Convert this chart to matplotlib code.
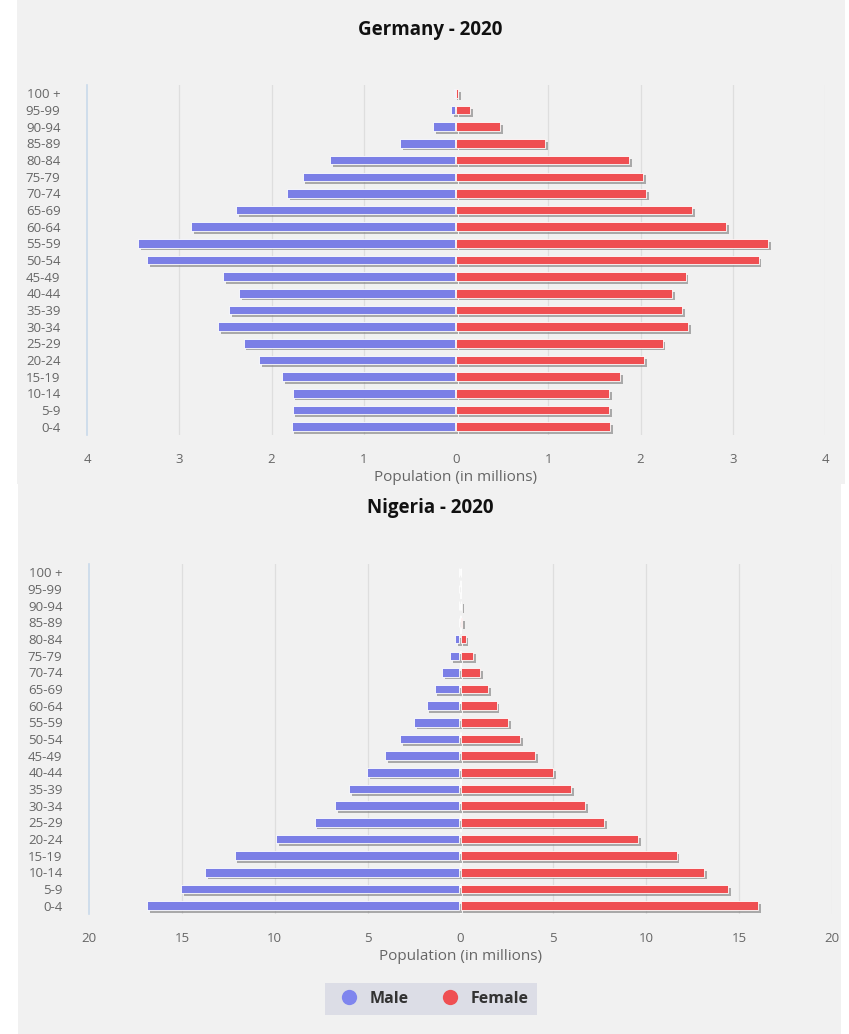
import numpy as np
import matplotlib.pyplot as plt
import matplotlib.patheffects as pe
from matplotlib.patches import Rectangle
from matplotlib.lines import Line2D

plt.rcParams['font.family'] = ['Open Sans', 'DejaVu Sans']

# grupy wiekowe (od najmłodszych)
ages = ["0-4", "5-9", "10-14", "15-19", "20-24", "25-29", "30-34", "35-39",
        "40-44", "45-49", "50-54", "55-59", "60-64", "65-69", "70-74",
        "75-79", "80-84", "85-89", "90-94", "95-99", "100 +"]

# Niemcy 2020, mln
de_male = [1.77, 1.76, 1.76, 1.87, 2.12, 2.29, 2.57, 2.45, 2.34, 2.51, 3.34,
           3.43, 2.86, 2.37, 1.82, 1.65, 1.35, 0.59, 0.24, 0.04, 0.005]
de_female = [1.67, 1.66, 1.66, 1.78, 2.04, 2.24, 2.52, 2.45, 2.34, 2.49, 3.28,
             3.38, 2.93, 2.56, 2.06, 2.03, 1.88, 0.97, 0.48, 0.15, 0.02]

# Nigeria 2020, mln
ng_male = [16.8, 15.0, 13.67, 12.1, 9.87, 7.79, 6.69, 5.94, 4.98, 3.99, 3.18,
           2.43, 1.76, 1.33, 0.94, 0.5, 0.22, 0.03, 0.01, 0.002, 0.0]
ng_female = [16.03, 14.41, 13.12, 11.64, 9.58, 7.73, 6.70, 5.97, 4.98, 4.03, 3.23,
             2.55, 1.94, 1.47, 1.04, 0.68, 0.27, 0.1, 0.03, 0.005, 0.0]

male_col = "#7b7fe6"
female_col = "#ef4f52"
txt_col = "#666666"

fig = plt.figure(figsize=(8.49, 10.34), dpi=100, facecolor="white")
# tło (dwa zrzuty ekranu)
fig.patches.append(Rectangle((17 / 849, 1 - 484 / 1034), 828 / 849, 484 / 1034,
                             transform=fig.transFigure, facecolor="#f1f1f1",
                             edgecolor="none", zorder=-10))
fig.patches.append(Rectangle((18 / 849, 0), 823 / 849, 550 / 1034,
                             transform=fig.transFigure, facecolor="#f1f1f1",
                             edgecolor="none", zorder=-10))

shadow = [pe.SimplePatchShadow(offset=(2, -2), shadow_rgbFace="#7a7a7a", alpha=0.6),
          pe.Normal()]


def pyramid(rect, male, female, lim, step, title, title_y, zero_dash=False):
    ax = fig.add_axes(rect)
    ax.set_facecolor("none")
    y = np.arange(len(ages))
    gap = lim * 0.003
    bm = ax.barh(y, -np.array(male), left=-gap, height=0.5, color=male_col,
                 edgecolor="white", linewidth=0.6)
    bf = ax.barh(y, female, height=0.5, color=female_col,
                 edgecolor="white", linewidth=0.6)
    for b in list(bm) + list(bf):
        b.set_path_effects(shadow)
    ax.set_xlim(-lim, lim)
    ax.set_ylim(-0.5, len(ages) - 0.5)
    ticks = np.arange(-lim, lim + step, step)
    ax.set_xticks(ticks)
    ax.set_xticklabels([f"{abs(t):g}" for t in ticks])
    ax.set_yticks(y)
    ax.set_yticklabels(ages)
    ax.tick_params(length=0, colors=txt_col, labelsize=9.5)
    ax.tick_params(axis="x", pad=13)
    ax.tick_params(axis="y", pad=19)
    for t in ticks:
        if t != 0 and abs(t) != lim:
            ax.axvline(t, color="#dedede", linewidth=0.9, zorder=0)
    ax.axvline(lim, color="#e4e4e4", linewidth=0.9, zorder=0)
    if zero_dash:
        ax.axvline(0, color="white", linewidth=1.2, linestyle=(0, (4, 3)), zorder=0)
    for s in ["top", "right", "bottom"]:
        ax.spines[s].set_visible(False)
    ax.spines["left"].set_color("#c9d9ea")
    ax.spines["left"].set_linewidth(1.2)
    ax.set_xlabel("Population (in millions)", color=txt_col, fontsize=11, labelpad=3)
    fig.text(0.5065, title_y, title, ha="center", va="center",
             fontsize=13.5, fontweight="bold", color="#111111")
    return ax


pyramid([87 / 849, 1 - 435 / 1034, 738 / 849, 350 / 1034],
        de_male, de_female, 4, 1, "Germany - 2020", 1 - 30 / 1034)
pyramid([89 / 849, 1 - 914 / 1034, 743 / 849, 350 / 1034],
        ng_male, ng_female, 20, 5, "Nigeria - 2020", 1 - 508 / 1034, zero_dash=True)

# legenda
handles = [Line2D([], [], marker="o", linestyle="none", markersize=11,
                  markerfacecolor=c, markeredgecolor="none") for c in ["#7f85ee", female_col]]
leg = fig.legend(handles, ["Male", "Female"], loc="center",
                 bbox_to_anchor=(431 / 849, 1 - 999 / 1034), ncol=2,
                 frameon=True, fancybox=False, handletextpad=0.3, columnspacing=1.6,
                 borderpad=0.5, prop={"weight": "bold", "size": 11.5})
leg.get_frame().set_facecolor("#dcdde6")
leg.get_frame().set_edgecolor("none")
leg.get_frame().set_alpha(1)
for t in leg.get_texts():
    t.set_color("#333333")

plt.savefig("out.png", dpi=100, facecolor=fig.get_facecolor())
